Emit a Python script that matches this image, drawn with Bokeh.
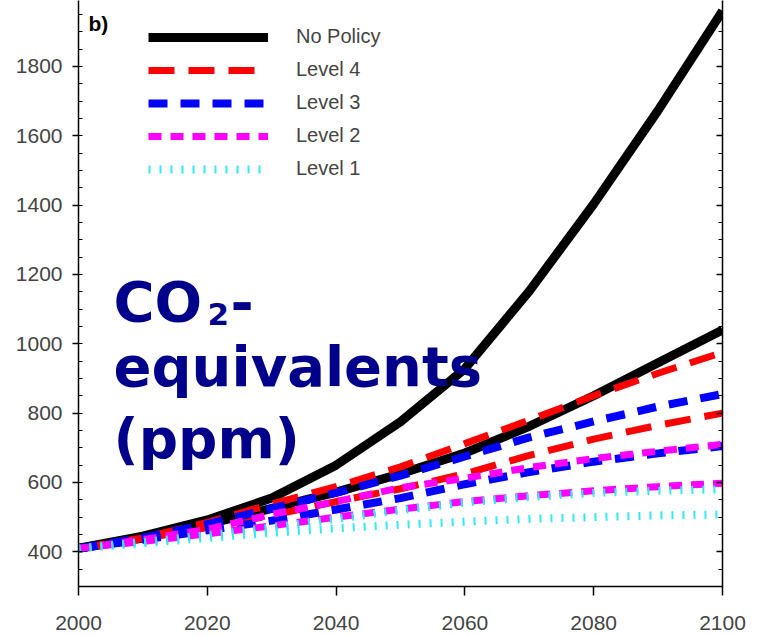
from bokeh.plotting import figure
from bokeh.models import (Legend, LegendItem, Label, LinearAxis, SingleIntervalTicker,
                          CustomJSTickFormatter, Range1d)
from bokeh.embed import file_html
from bokeh.resources import INLINE

years = [2000, 2010, 2020, 2030, 2040, 2050, 2060, 2070, 2080, 2090, 2100]

no_policy_high = [410, 445, 492, 555, 650, 775, 928, 1152, 1403, 1673, 1960]
no_policy_low = [410, 440, 480, 525, 572, 625, 685, 762, 850, 945, 1040]
level4_high = [410, 440, 485, 538, 588, 645, 712, 780, 850, 915, 975]
level4_low = [410, 438, 470, 505, 545, 582, 625, 678, 725, 765, 800]
level3_high = [410, 440, 480, 525, 570, 620, 675, 730, 776, 819, 855]
level3_low = [410, 435, 462, 490, 522, 555, 595, 630, 660, 684, 705]
level2_high = [410, 435, 465, 508, 545, 585, 612, 643, 669, 690, 710]
level2_low = [410, 430, 452, 475, 500, 523, 545, 562, 576, 588, 598]
level1_high = [410, 428, 448, 470, 495, 520, 542, 558, 570, 576, 580]
level1_low = [410, 425, 440, 455, 468, 478, 487, 495, 500, 505, 508]

legend_labels = ["No Policy", "Level 4", "Level 3", "Level 2", "Level 1"]

FONT = "Liberation Sans"

p = figure(width=757, height=636, output_backend="svg", toolbar_location=None,
           x_range=Range1d(2000, 2100), y_range=Range1d(300, 1990),
           min_border_left=78, min_border_right=35, min_border_top=0, min_border_bottom=50)
p.outline_line_color = None
p.xgrid.visible = False
p.ygrid.visible = False
p.background_fill_color = "white"

# axes
xa = p.xaxis[0]
xa.ticker = SingleIntervalTicker(interval=20, num_minor_ticks=0)
xa.major_tick_out = 9
xa.major_tick_in = 0
xa.minor_tick_line_color = None
xa.axis_line_width = 1.5
xa.major_tick_line_width = 1.5
xa.major_label_text_font = FONT
xa.major_label_text_font_size = "21px"
xa.major_label_standoff = 20

ya = p.yaxis[0]
ya.ticker = SingleIntervalTicker(interval=200, num_minor_ticks=4)
ya.major_tick_out = 6
ya.major_tick_in = 0
ya.minor_tick_out = 0
ya.minor_tick_in = 4
ya.axis_line_width = 1.5
ya.major_tick_line_width = 1.5
ya.minor_tick_line_width = 1.2
ya.major_label_text_font = FONT
ya.major_label_text_font_size = "21px"
ya.major_label_standoff = 10

ra = LinearAxis(ticker=SingleIntervalTicker(interval=200, num_minor_ticks=4),
                formatter=CustomJSTickFormatter(code="return ''"),
                major_tick_in=6, major_tick_out=0, minor_tick_in=4, minor_tick_out=0,
                axis_line_width=1.5, major_tick_line_width=1.5, minor_tick_line_width=1.2,
                major_label_standoff=0, major_label_text_font_size="1px")
p.add_layout(ra, "right")

# lines
black_kw = dict(line_color="black", line_width=9, line_join="round")
red_kw = dict(line_color="#ff0000", line_width=7, line_dash="26 14")
blue_kw = dict(line_color="#0000ff", line_width=8, line_dash="19 13")
mag_kw = dict(line_color="#ff00ff", line_width=7, line_dash="13 9")
cyan_kw = dict(line_color="#33e8f5", line_width=8, line_dash="2 9")

r_np = p.line(years, no_policy_high, **black_kw)
p.line(years, no_policy_low, **black_kw)
r_l4 = p.line(years, level4_high, **red_kw)
p.line(years, level4_low, **red_kw)
r_l3 = p.line(years, level3_high, **blue_kw)
p.line(years, level3_low, **blue_kw)
r_l2 = p.line(years, level2_high, **mag_kw)
p.line(years, level2_low, **mag_kw)
r_l1 = p.line(years, level1_high, **cyan_kw)
p.line(years, level1_low, **cyan_kw)

items = [LegendItem(label=lab, renderers=[r]) for lab, r in
         zip(legend_labels, [r_np, r_l4, r_l3, r_l2, r_l1])]
legend = Legend(items=items, location=(70, 406), glyph_width=120, glyph_height=22,
                label_height=22, label_standoff=28, spacing=10, padding=0, margin=0,
                border_line_color=None, background_fill_alpha=0,
                label_text_font=FONT, label_text_font_size="20px")
p.add_layout(legend)

# annotation texts
navy = "#00008b"
def big(text, x, y, size="56px"):
    p.add_layout(Label(x=x, y=y, x_units="screen", y_units="screen", text=text,
                       text_font="DejaVu Sans", text_font_style="bold",
                       text_font_size=size, text_color=navy,
                       text_baseline="alphabetic", text_align="left"))

big("CO", 35, 285)
big("2", 129, 273, "31px")
big("-", 152, 285)
big("equivalents", 35, 220)
big("(ppm)", 35, 148, "55px")

p.add_layout(Label(x=10, y=563, x_units="screen", y_units="screen", text="b)",
                   text_font=FONT, text_font_style="bold", text_font_size="21px",
                   text_color="black", text_baseline="alphabetic"))

open("out.html", "w").write(file_html(p, INLINE))
